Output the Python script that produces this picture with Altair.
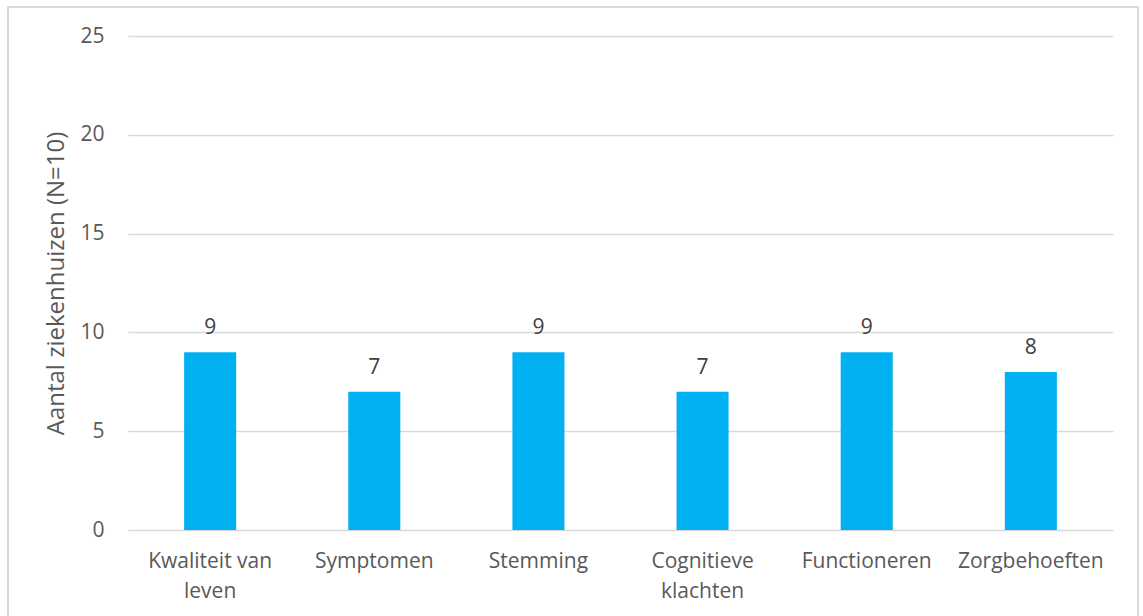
import altair as alt
import pandas as pd

# Number of hospitals (out of 10) measuring each outcome domain
categories = ["Kwaliteit van leven", "Symptomen", "Stemming",
              "Cognitieve klachten", "Functioneren", "Zorgbehoeften"]
counts = [9, 7, 9, 7, 9, 8]

df = pd.DataFrame({"domein": categories, "aantal": counts})

FONT = "Open Sans"
TEXT = "#595959"

x = alt.X(
    "domein:N",
    sort=categories,
    title=None,
    scale=alt.Scale(paddingInner=0.683, paddingOuter=0.342),
    axis=alt.Axis(
        labelAngle=0,
        labelFont=FONT,
        labelFontSize=21,
        labelColor=TEXT,
        labelPadding=20,
        labelLineHeight=30,
        ticks=False,
        domain=False,
        labelExpr=(
            "datum.label == 'Kwaliteit van leven' ? ['Kwaliteit van', 'leven'] : "
            "datum.label == 'Cognitieve klachten' ? ['Cognitieve', 'klachten'] : datum.label"
        ),
    ),
)

y = alt.Y(
    "aantal:Q",
    title="Aantal ziekenhuizen (N=10)",
    scale=alt.Scale(domain=[0, 25], nice=False),
    axis=alt.Axis(
        values=[0, 5, 10, 15, 20, 25],
        labelFont=FONT,
        labelFontSize=21,
        labelColor=TEXT,
        labelPadding=24,
        ticks=False,
        domain=False,
        gridColor="#d9d9d9",
        gridWidth=1.5,
        titleFont=FONT,
        titleFontSize=24,
        titleFontWeight="normal",
        titleColor=TEXT,
        titlePadding=11,
    ),
)

# outer chart border
frame = alt.Chart(df).mark_rect(
    filled=False, stroke="#d9d9d9", strokeWidth=1.5
).encode(
    x=alt.value(-120), x2=alt.value(1010),
    y=alt.value(-29), y2=alt.value(600),
)

bars = alt.Chart(df).mark_bar(color="#00B0F0").encode(x=x, y=y)

labels = alt.Chart(df).mark_text(
    baseline="bottom", dy=-14, font=FONT, fontSize=21, color="#404040"
).encode(x=x, y=y, text="aantal:Q")

chart = (
    alt.layer(bars, labels, frame)
    .properties(
        width=985,
        height=494,
        autosize=alt.AutoSizeParams(type="none"),
        padding={"left": 128, "top": 36, "right": 30, "bottom": 86},
        background="white",
    )
    .configure_view(stroke=None)
)

chart.save("out.html", embed_options={"renderer": "svg", "actions": False})
